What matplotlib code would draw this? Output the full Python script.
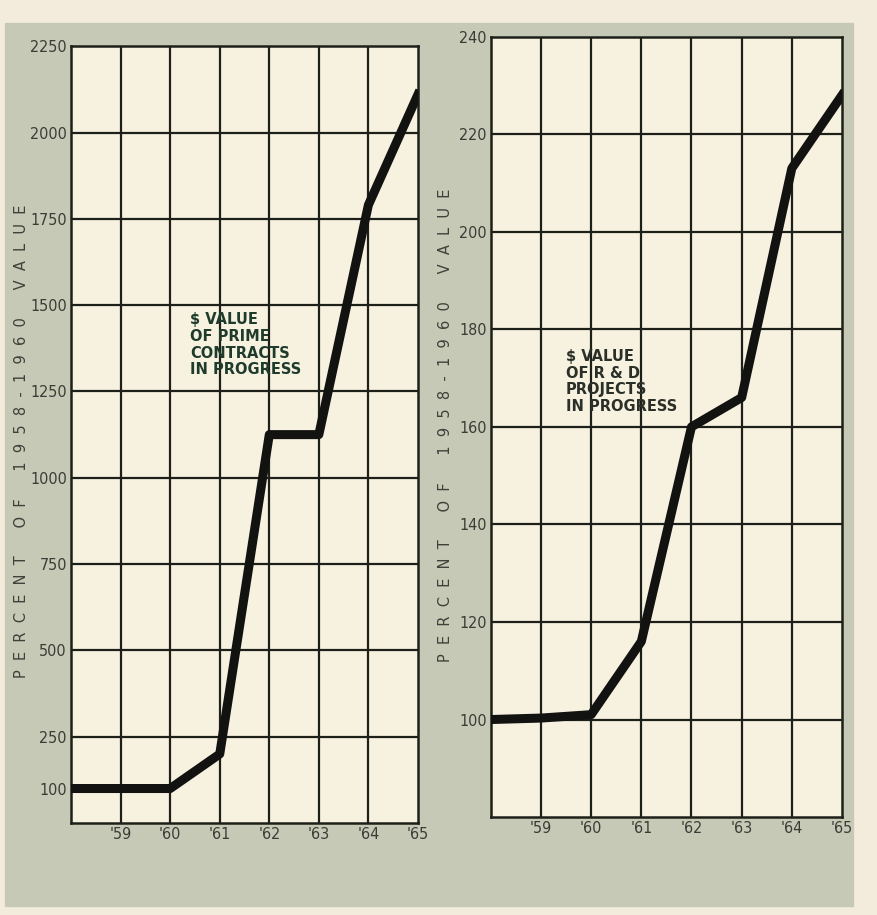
import matplotlib
matplotlib.use('Agg')
import matplotlib.pyplot as plt
from matplotlib.patches import Rectangle

# data
years = [1958, 1959, 1960, 1961, 1962, 1963, 1964, 1965]
prime = [100, 100, 100, 200, 1125, 1125, 1790, 2110]
rnd = [100, 100.3, 101, 116, 160, 166, 213, 228]

year_labels = ["'59", "'60", "'61", "'62", "'63", "'64", "'65"]
prime_ticks = [100, 250, 500, 750, 1000, 1250, 1500, 1750, 2000, 2250]
prime_grid = [250, 500, 750, 1000, 1250, 1500, 1750, 2000]
rnd_ticks = [100, 120, 140, 160, 180, 200, 220, 240]

ylabel = 'P  E  R  C  E  N  T      O  F      1  9  5  8  -  1  9  6  0      V  A  L  U  E'
prime_note = '$ VALUE\nOF PRIME\nCONTRACTS\nIN PROGRESS'
rnd_note = '$ VALUE\nOF R & D\nPROJECTS\nIN PROGRESS'

paper = '#f3ecdc'
board = '#c6c9b5'
cell = '#f7f1e0'
ink = '#1d2019'

f = plt.figure(figsize=(8.78, 9.15), dpi=100, facecolor=paper)
f.patches.append(Rectangle((0.006, 0.01), 0.965, 0.965, transform=f.transFigure,
                           color=board, zorder=-5))

ax1 = f.add_axes([0.081, 0.1005, 0.395, 0.849])
ax2 = f.add_axes([0.559, 0.107, 0.400, 0.853])


def style(ax, ylim, grid_y, ticks):
    ax.set_facecolor(cell)
    ax.set_xlim(1958, 1965)
    ax.set_ylim(*ylim)
    for x in years[1:-1]:
        ax.axvline(x, color=ink, lw=1.6, zorder=1)
    for y in grid_y:
        ax.axhline(y, color=ink, lw=1.6, zorder=1)
    for s in ax.spines.values():
        s.set_color(ink)
        s.set_linewidth(1.8)
    ax.set_xticks(years[1:])
    ax.set_xticklabels(year_labels, fontstretch='condensed', fontsize=11.5, color='#3b3c36')
    ax.set_yticks(ticks)
    ax.set_yticklabels([str(t) for t in ticks], fontstretch='condensed', fontsize=11.5,
                       color='#3b3c36')
    ax.tick_params(length=0, pad=3)


style(ax1, (0, 2250), prime_grid, prime_ticks)
style(ax2, (80, 240), rnd_ticks[:-1], rnd_ticks)

ax1.plot(years, prime, color='#121210', lw=6.5, solid_joinstyle='round', zorder=3)
ax2.plot(years, rnd, color='#121210', lw=6.5, solid_joinstyle='round', zorder=3)

ax1.text(1960.4, 1480, prime_note, fontsize=10.5, fontweight='bold', color='#1f3b2c',
         va='top', ha='left', linespacing=1.15, zorder=4)
ax2.text(1959.5, 176, rnd_note, fontsize=10.5, fontweight='bold', color='#2a2f28',
         va='top', ha='left', linespacing=1.15, zorder=4)

f.text(0.024, 0.518, ylabel, rotation=90, fontsize=10.5, color='#3f403a', ha='center', va='center')
f.text(0.507, 0.535, ylabel, rotation=90, fontsize=10.5, color='#3f403a', ha='center', va='center')

f.savefig('out.png', dpi=100, facecolor=paper)
